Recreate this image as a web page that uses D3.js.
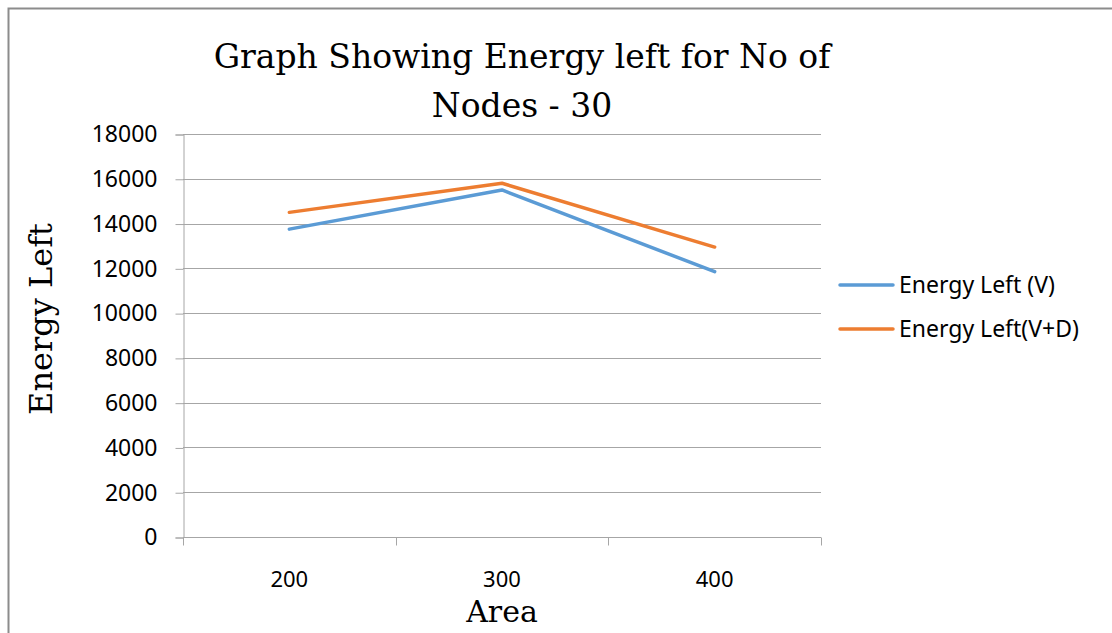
<!DOCTYPE html>
<html>
<head>
<meta charset="utf-8">
<script src="https://cdn.jsdelivr.net/npm/d3@7"></script>
<style>
  body { margin: 0; background: #fff; }
</style>
</head>
<body>
<div id="chart"></div>
<script>
// chart data
const areas = ['200', '300', '400'];
const energyV = [13750, 15500, 11850];
const energyVD = [14500, 15800, 12950];
const yTicks = [0, 2000, 4000, 6000, 8000, 10000, 12000, 14000, 16000, 18000];
const seriesNames = ['Energy Left (V)', 'Energy Left(V+D)'];
const colors = ['#5b9bd5', '#ed7d31'];

const width = 1112;
const height = 633;
const plot = { left: 183, right: 821, top: 134, bottom: 537 };
const serif = 'DejaVu Serif, serif';
const sans = 'Noto Sans, sans-serif';

const svg = d3.select('#chart').append('svg')
  .attr('width', width)
  .attr('height', height);

// outer frame (top and left edges only are in view)
svg.append('path')
  .attr('d', 'M8.5,' + height + ' V8.5 H' + width)
  .attr('fill', 'none')
  .attr('stroke', '#8c8c8c')
  .attr('stroke-width', 2);

const x = d3.scaleBand()
  .domain(areas)
  .range([plot.left, plot.right]);

const y = d3.scaleLinear()
  .domain([0, 18000])
  .range([plot.bottom, plot.top]);

// gridlines
svg.append('g')
  .selectAll('line')
  .data(yTicks.filter(d => d > 0))
  .enter()
  .append('line')
  .attr('x1', plot.left)
  .attr('x2', plot.right)
  .attr('y1', d => Math.round(y(d)) + 0.5)
  .attr('y2', d => Math.round(y(d)) + 0.5)
  .attr('stroke', '#a6a6a6')
  .attr('stroke-width', 1);

// y axis
const yAxis = svg.append('g')
  .attr('transform', 'translate(' + (plot.left + 0.5) + ',0.5)')
  .call(d3.axisLeft(y).tickValues(yTicks).tickSize(8).tickPadding(18).tickFormat(d3.format('d')));

yAxis.select('.domain').attr('stroke', '#a6a6a6');
yAxis.selectAll('.tick line').attr('stroke', '#a6a6a6');
yAxis.selectAll('.tick text')
  .attr('font-family', sans)
  .attr('font-size', 23)
  .attr('fill', '#000');

// x axis (ticks between categories)
const xTickPos = [plot.left].concat(areas.map(a => x(a) + x.bandwidth()));
const xAxis = svg.append('g')
  .attr('transform', 'translate(0,' + (plot.bottom + 0.5) + ')');
xAxis.append('line')
  .attr('x1', plot.left).attr('x2', plot.right)
  .attr('stroke', '#a6a6a6');
xAxis.selectAll('.tk')
  .data(xTickPos)
  .enter()
  .append('line')
  .attr('x1', d => Math.round(d) + 0.5)
  .attr('x2', d => Math.round(d) + 0.5)
  .attr('y1', 0).attr('y2', 8)
  .attr('stroke', '#a6a6a6');
xAxis.selectAll('text')
  .data(areas)
  .enter()
  .append('text')
  .attr('x', d => x(d) + x.bandwidth() / 2)
  .attr('y', 49)
  .attr('text-anchor', 'middle')
  .attr('font-family', sans)
  .attr('font-size', 22)
  .attr('fill', '#000')
  .text(d => d);

// lines
const line = d3.line()
  .x((d, i) => x(areas[i]) + x.bandwidth() / 2)
  .y(d => y(d));

[energyV, energyVD].forEach((s, k) => {
  svg.append('path')
    .datum(s)
    .attr('d', line)
    .attr('fill', 'none')
    .attr('stroke', colors[k])
    .attr('stroke-width', 3.5)
    .attr('stroke-linecap', 'round')
    .attr('stroke-linejoin', 'round');
});

// title
const title = svg.append('text')
  .attr('text-anchor', 'middle')
  .attr('font-family', serif)
  .attr('font-size', 33)
  .attr('fill', '#000');
title.append('tspan').attr('x', 522).attr('y', 68).text('Graph Showing Energy left for No of');
title.append('tspan').attr('x', 522).attr('y', 117).text('Nodes - 30');

// axis titles
svg.append('text')
  .attr('transform', 'translate(52,319) rotate(-90)')
  .attr('text-anchor', 'middle')
  .attr('font-family', serif)
  .attr('font-size', 32)
  .attr('fill', '#000')
  .text('Energy Left');

svg.append('text')
  .attr('x', 502)
  .attr('y', 622)
  .attr('text-anchor', 'middle')
  .attr('font-family', serif)
  .attr('font-size', 30)
  .attr('fill', '#000')
  .text('Area');

// legend
const legend = svg.append('g')
  .selectAll('g')
  .data(seriesNames)
  .enter()
  .append('g')
  .attr('transform', (d, i) => 'translate(840,' + (285 + i * 44) + ')');
legend.append('line')
  .attr('x1', 0).attr('x2', 53)
  .attr('stroke', (d, i) => colors[i])
  .attr('stroke-width', 3.5)
  .attr('stroke-linecap', 'round');
legend.append('text')
  .attr('x', 59)
  .attr('y', 8)
  .attr('font-family', sans)
  .attr('font-size', 23)
  .attr('fill', '#000')
  .text(d => d);
</script>
</body>
</html>
